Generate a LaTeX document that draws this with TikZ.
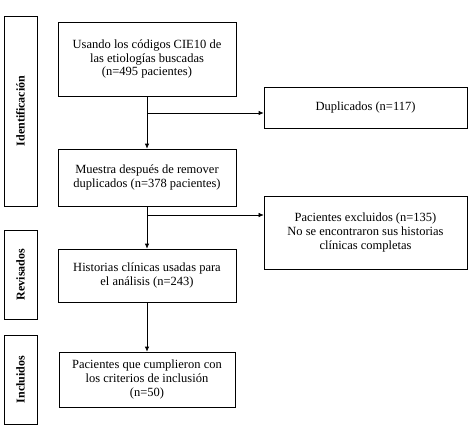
\documentclass[tikz,border=0pt]{standalone}
\usepackage{fontspec}
\setmainfont{Liberation Serif}
\usetikzlibrary{arrows.meta,calc}
\begin{document}
\begin{tikzpicture}[x=1pt,y=-1pt,
  box/.style={draw,line width=0.7pt,rectangle,align=center,font=\fontsize{12.5}{13.8}\selectfont,inner sep=0pt},
  side/.style={draw,line width=0.7pt,rectangle,minimum width=33pt,inner sep=0pt},
  sidelabel/.style={rotate=90,font=\fontsize{12}{13}\selectfont\bfseries},
  arr/.style={line width=0.7pt,-{Latex[length=5pt,width=4.5pt]}},
  thinarr/.style={line width=0.5pt,-{Latex[length=5pt,width=4.5pt]}}]
\useasboundingbox (0,0) rectangle (474,436);
% side boxes
\node[side,minimum height=190pt] (sid) at (20.5,111) {};
\node[sidelabel] (lid) at (sid.center) {Identificación};
\node[side,minimum height=89pt] (srev) at (20.5,274.5) {};
\node[sidelabel] (lrev) at (srev.center) {Revisados};
\node[side,minimum height=89pt] (sinc) at (20.5,379.5) {};
\node[sidelabel] (linc) at (sinc.center) {Incluidos};
% main boxes
\node[box,minimum width=178pt,minimum height=74pt] (b1) at (147,59) {Usando los códigos CIE10 de\\las etiologías buscadas\\(n=495 pacientes)};
\node[box,minimum width=178pt,minimum height=57pt] (b2) at (147,177.5) {Muestra después de remover\\duplicados (n=378 pacientes)};
\node[box,minimum width=178pt,minimum height=53pt] (b3) at (147,275.5) {Historias clínicas usadas para\\el análisis (n=243)};
\node[box,minimum width=176pt,minimum height=55pt] (b4) at (147,379.5) {Pacientes que cumplieron con\\los criterios de inclusión\\(n=50)};
\node[box,minimum width=203pt,minimum height=41pt] (dup) at (365.5,107.5) {Duplicados (n=117)};
\node[box,minimum width=203pt,minimum height=73pt] (exc) at (365.5,232.5) {Pacientes excluidos (n=135)\\No se encontraron sus historias\\clínicas completas};
% connectors
\draw[arr] (b1) -- (b2);
\draw[arr] (b2) -- (b3);
\draw[arr] (b3) -- (b4);
\coordinate (j1) at (147,113);
\coordinate (j2) at (147,215);
\draw[arr] (j1) -- (j1 -| dup.west);
\draw[thinarr] (j2) -- (j2 -| exc.west);
\end{tikzpicture}
\end{document}
